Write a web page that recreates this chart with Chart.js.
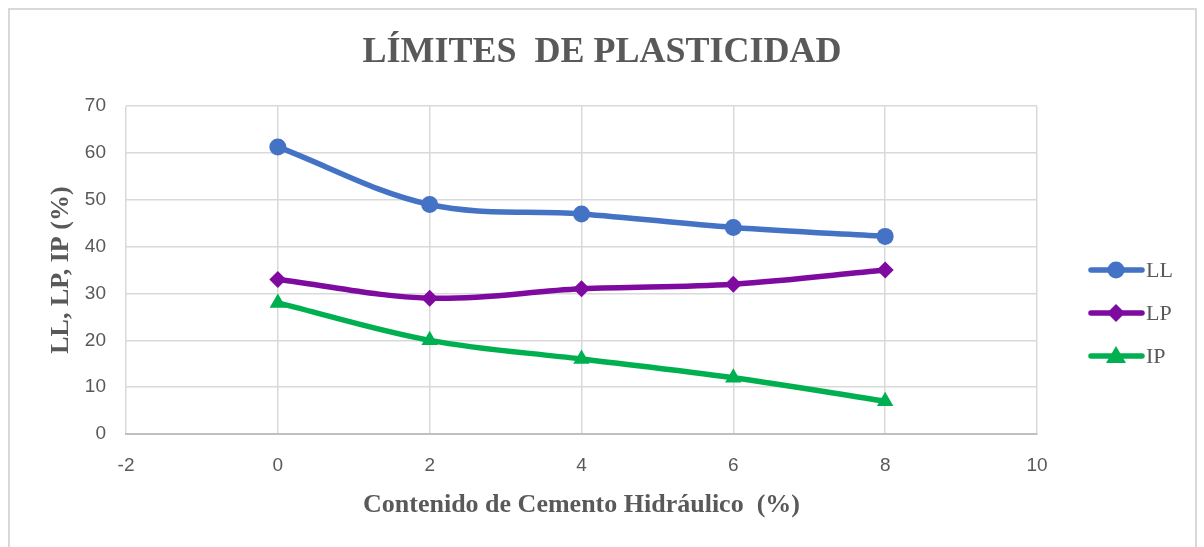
<!DOCTYPE html>
<html>
<head>
<meta charset="utf-8">
<script src="https://cdn.jsdelivr.net/npm/chart.js@4"></script>
<style>
  html, body { margin: 0; padding: 0; background: #fff; }
  #wrap { width: 1204px; height: 547px; }
</style>
</head>
<body>
<div id="wrap"><canvas id="myChart" width="1204" height="547"></canvas></div>
<script>
// datos
const contenido = [0, 2, 4, 6, 8];
const valoresLL = [61.3, 49, 47, 44.1, 42.2];
const valoresLP = [33, 29, 31, 32, 35];
const valoresIP = [28, 20, 16, 12, 7];
const nombres = ['LL', 'LP', 'IP'];

const colores = ['#4472C4', '#7F0AA0', '#00B050'];
const marcas = ['circle', 'rectRot', 'triangle'];
const gris = '#595959';

function serie(i, valores) {
    return {
        label: nombres[i],
        data: contenido.map((x, k) => ({ x: x, y: valores[k] })),
        borderColor: colores[i],
        backgroundColor: colores[i],
        borderWidth: 5.5,
        pointStyle: marcas[i],
        pointRadius: i === 2 ? 9.5 : 8.5,
        pointBorderWidth: 0,
        tension: 0.35
    };
}

// marco gris del grafico
const marco = {
    id: 'marco',
    beforeDraw(chart) {
        const ctx = chart.ctx;
        ctx.save();
        ctx.strokeStyle = '#d9d9d9';
        ctx.lineWidth = 2;
        ctx.strokeRect(9, 9, 1187, 545);
        ctx.restore();
    }
};

// leyenda a la derecha: linea con marcador y texto
const leyenda = {
    id: 'leyenda',
    afterDraw(chart) {
        const ctx = chart.ctx;
        ctx.save();
        chart.data.datasets.forEach((d, i) => {
            const y = 270 + 43 * i;
            const cx = 1116;
            ctx.strokeStyle = colores[i];
            ctx.fillStyle = colores[i];
            ctx.lineWidth = 5.5;
            ctx.lineCap = 'round';
            ctx.beginPath(); ctx.moveTo(1091, y); ctx.lineTo(1142, y); ctx.stroke();
            ctx.beginPath();
            if (marcas[i] === 'circle') {
                ctx.arc(cx, y, 8.5, 0, Math.PI * 2);
            } else if (marcas[i] === 'rectRot') {
                ctx.moveTo(cx, y - 9); ctx.lineTo(cx + 9, y); ctx.lineTo(cx, y + 9); ctx.lineTo(cx - 9, y);
            } else {
                ctx.moveTo(cx, y - 10); ctx.lineTo(cx + 10, y + 7); ctx.lineTo(cx - 10, y + 7);
            }
            ctx.closePath(); ctx.fill();
            ctx.fillStyle = gris;
            ctx.font = '22px "Liberation Serif"';
            ctx.textBaseline = 'middle';
            ctx.textAlign = 'left';
            ctx.fillText(d.label, 1146, y + 1);
        });
        ctx.restore();
    }
};

const ctx = document.getElementById('myChart');

const chart = new Chart(ctx, {
    type: 'line',
    data: {
        datasets: [
            serie(0, valoresLL),
            serie(1, valoresLP),
            serie(2, valoresIP)
        ]
    },
    options: {
        responsive: false,
        animation: false,
        layout: {
            padding: { left: 30, right: 30, top: 10, bottom: 22 }
        },
        plugins: {
            title: {
                display: true,
                text: 'LÍMITES  DE PLASTICIDAD',
                color: gris,
                font: { family: 'Liberation Serif', size: 36, weight: 'bold' },
                padding: { top: 21, bottom: 32 }
            },
            legend: { display: false },
            tooltip: { enabled: false }
        },
        scales: {
            x: {
                type: 'linear',
                min: -2,
                max: 10,
                ticks: {
                    stepSize: 2,
                    color: gris,
                    font: { family: 'Liberation Sans', size: 19 },
                    padding: 20
                },
                grid: { color: '#d9d9d9', lineWidth: 1.5, drawTicks: false },
                border: { color: '#bfbfbf', width: 2 },
                title: {
                    display: true,
                    text: 'Contenido de Cemento Hidráulico  (%)',
                    color: gris,
                    font: { family: 'Liberation Serif', size: 26, weight: 'bold' },
                    padding: { top: 0 }
                },
                afterFit(scale) { scale.height = 91; }
            },
            y: {
                min: 0,
                max: 70,
                ticks: {
                    stepSize: 10,
                    color: gris,
                    font: { family: 'Liberation Sans', size: 19 },
                    padding: 20
                },
                grid: { color: '#d9d9d9', lineWidth: 1.5, drawTicks: false },
                border: { display: false },
                title: {
                    display: true,
                    text: 'LL, LP, IP (%)',
                    color: gris,
                    font: { family: 'Liberation Serif', size: 26, weight: 'bold' },
                    padding: { top: 16 }
                },
                afterFit(scale) { scale.width = 96; }
            },
            // eje vacio a la derecha: reserva el sitio de la leyenda
            espacio: {
                type: 'linear',
                position: 'right',
                min: 0,
                max: 70,
                ticks: { display: false },
                grid: { display: false },
                border: { display: false },
                afterFit(scale) { scale.width = 137; }
            }
        }
    },
    plugins: [marco, leyenda]
});
</script>
</body>
</html>
